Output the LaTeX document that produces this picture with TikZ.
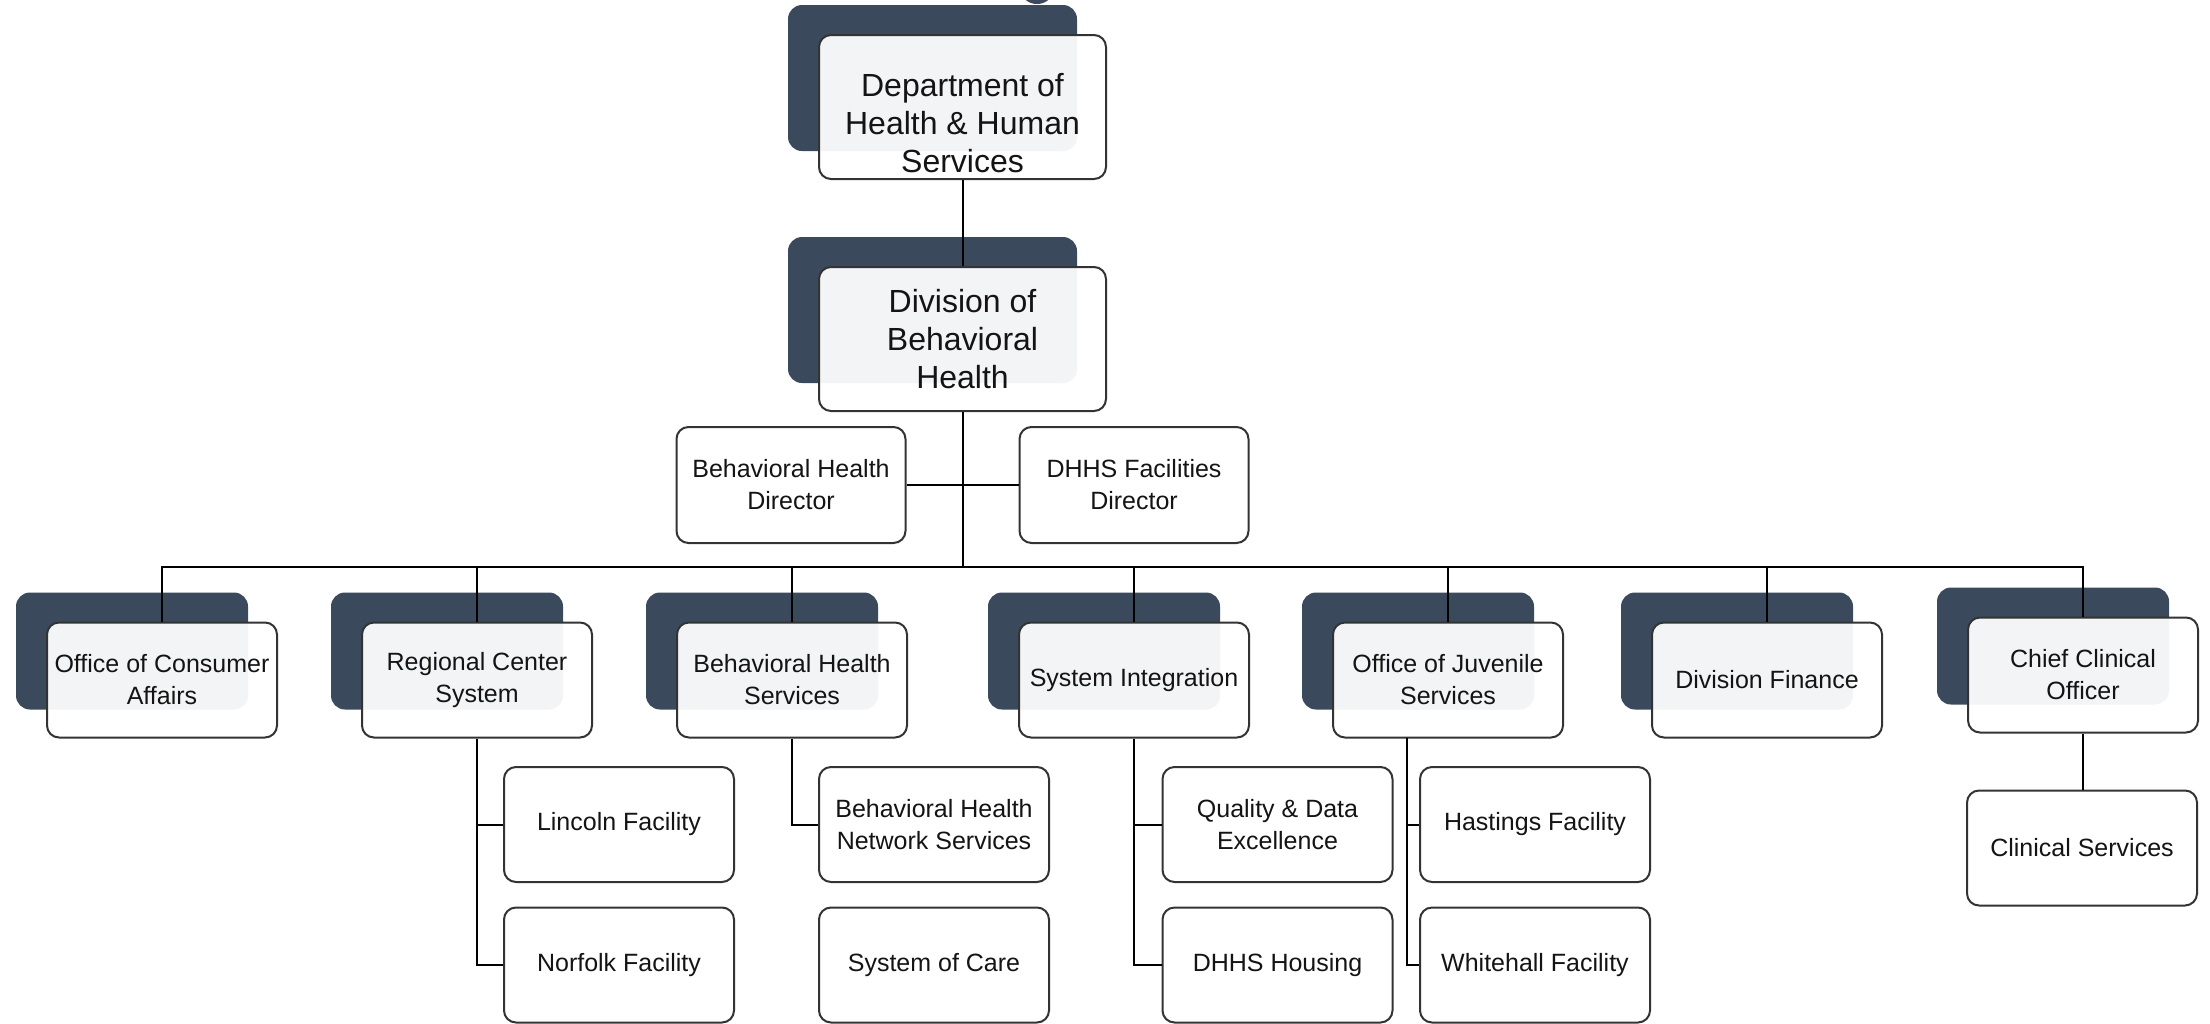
\documentclass[tikz,border=0pt]{standalone}
\usepackage{fontspec}
\setmainfont{Liberation Sans}
\usetikzlibrary{backgrounds}
\definecolor{shadowcol}{RGB}{58,73,91}
\definecolor{linecol}{RGB}{51,51,51}
\definecolor{txtcol}{RGB}{20,20,20}
\tikzset{
  orgbox/.style={draw=linecol, line width=2pt, rounded corners=12pt, fill=white,
    fill opacity=0.94, text opacity=1, text=txtcol, align=center, inner sep=0pt,
    minimum width=230pt, minimum height=115pt, font=\fontsize{25}{32}\selectfont},
  bigbox/.style={orgbox, minimum width=287pt, minimum height=144pt, font=\fontsize{32}{38}\selectfont},
  bigtext/.style={text=txtcol, align=center, inner sep=0pt, font=\fontsize{32}{38}\selectfont},
  conn/.style={draw=black, line width=2pt},
}
\newcommand\orgshadow[1]{\fill[shadowcol, rounded corners=14pt] ([shift={(-30,-29)}]#1.south west) rectangle ([shift={(-30,-29)}]#1.north east);}
\begin{document}
\begin{tikzpicture}[x=1pt,y=-1pt]
\useasboundingbox (0,0) rectangle (2210,1023);
% fragment of title glyph at top edge
\begin{scope}
\clip (0,0) rectangle (2210,1023);
\fill[shadowcol] (1037,-8) ellipse [x radius=15, y radius=12];
\end{scope}

% top level
\node[bigbox] (dept) at (962.5,107) {};
\node[bigtext] (depttext) at (962.5,123) {Department of\\Health \& Human\\Services};
\node[bigbox] (div) at (962.5,339) {Division of\\Behavioral\\Health};

% directors
\node[orgbox, minimum width=229pt, minimum height=116pt] (bhd) at (791,485) {Behavioral Health\\Director};
\node[orgbox, minimum width=229pt, minimum height=116pt] (dfd) at (1134,485) {DHHS Facilities\\Director};

% level 2
\node[orgbox] (oca) at (162,680) {Office of Consumer\\Affairs};
\node[orgbox] (rcs) at (477,680) {Regional Center\\System};
\node[orgbox] (bhs) at (792,680) {Behavioral Health\\Services};
\node[orgbox] (si) at (1134,680) {System Integration};
\node[orgbox] (ojs) at (1448,680) {Office of Juvenile\\Services};
\node[orgbox] (df) at (1767,680) {Division Finance};
\node[orgbox] (cco) at (2083,675) {Chief Clinical\\Officer};

% level 3
\node[orgbox] (lincoln) at (619,824.5) {Lincoln Facility};
\node[orgbox] (norfolk) at (619,965) {Norfolk Facility};
\node[orgbox] (bhns) at (934,824.5) {Behavioral Health\\Network Services};
\node[orgbox] (soc) at (934,965) {System of Care};
\node[orgbox] (qde) at (1277.5,824.5) {Quality \& Data\\Excellence};
\node[orgbox] (housing) at (1277.5,965) {DHHS Housing};
\node[orgbox] (hastings) at (1535,824.5) {Hastings Facility};
\node[orgbox] (whitehall) at (1535,965) {Whitehall Facility};
\node[orgbox] (cs) at (2082,848) {Clinical Services};

% shadows
\begin{pgfonlayer}{background}
\orgshadow{dept}
\orgshadow{div}
\orgshadow{oca}
\orgshadow{rcs}
\orgshadow{bhs}
\orgshadow{si}
\orgshadow{ojs}
\orgshadow{df}
\orgshadow{cco}
\end{pgfonlayer}

% connectors
\coordinate (bus) at (962.5,567);
\draw[conn] (dept.south) -- (div.north);
\draw[conn] (div.south) -- (bus);
\draw[conn] (bhd.east) -- (dfd.west);
\foreach \n in {oca,rcs,bhs,si,ojs,df,cco}{
  \draw[conn] (bus) -| (\n.north);
}
\draw[conn] (rcs.south) |- (norfolk.west);
\draw[conn] (rcs.south |- lincoln.west) -- (lincoln.west);
\draw[conn] (bhs.south) |- (bhns.west);
\draw[conn] (si.south) |- (housing.west);
\draw[conn] (si.south |- qde.west) -- (qde.west);
\coordinate (ojsdrop) at (1407,737.5);
\draw[conn] (ojsdrop) |- (whitehall.west);
\draw[conn] (ojsdrop |- hastings.west) -- (hastings.west);
\draw[conn] (cco.south) -- (cco.south |- cs.north);
\end{tikzpicture}
\end{document}
